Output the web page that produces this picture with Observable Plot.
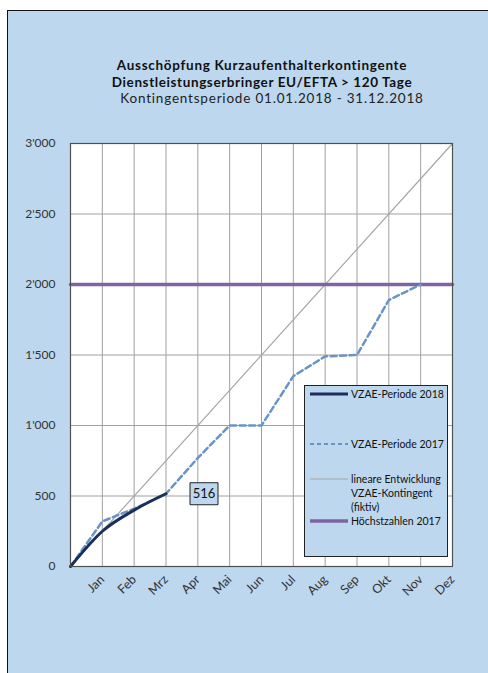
<!DOCTYPE html>
<html>
<head>
<meta charset="utf-8">
<script src="https://cdn.jsdelivr.net/npm/d3@7"></script>
<script src="https://cdn.jsdelivr.net/npm/@observablehq/plot@0.6"></script>
<style>
  html, body { margin: 0; padding: 0; background: #ffffff; }
  #wrap { position: relative; width: 488px; height: 673px; overflow: hidden; font-family: Lato, "Open Sans", sans-serif; }
  #panel { position: absolute; left: 7px; top: 10px; width: 500px; height: 700px; background: #bdd7ee; border-left: 1.5px solid #111; border-top: 1.5px solid #111; }
  #chart { position: absolute; left: 0; top: 0; }
  .t { position: absolute; white-space: nowrap; transform: translateX(-50%); color: #111; line-height: 14px; height: 14px; font-size: 13.5px; }
  #legend { position: absolute; left: 304px; top: 385px; }
</style>
</head>
<body>
<div id="wrap">
  <div id="panel"></div>
  <div class="t" id="t1" style="left:262px; top:58px; font-weight:700; letter-spacing:0.7px;"></div>
  <div class="t" id="t2" style="left:262px; top:74.5px; font-weight:700; letter-spacing:0.6px;"></div>
  <div class="t" id="t3" style="left:272px; top:91px; letter-spacing:0.8px; color:#222;"></div>
  <div id="chart"></div>
  <div id="legend"></div>
</div>
<script>
// ---- Texts ----
const titleLines = [
  "Ausschöpfung Kurzaufenthalterkontingente",
  "Dienstleistungserbringer EU/EFTA > 120 Tage",
  "Kontingentsperiode 01.01.2018 - 31.12.2018"
];

// ---- Categories (x: 0 = start of period, 1..12 = month ends) ----
const months = ["Jan", "Feb", "Mrz", "Apr", "Mai", "Jun", "Jul", "Aug", "Sep", "Okt", "Nov", "Dez"];
const yTicks = [0, 500, 1000, 1500, 2000, 2500, 3000];

// ---- Series ----
const vzae2018 = [0, 250, 400, 516];                                              // start, Jan..Mrz
const vzae2017 = [0, 320, 410, 516, 770, 1000, 1000, 1350, 1490, 1500, 1890, 2000]; // start, Jan..Nov
const linearX = [0, 12];
const linearY = [0, 3000];
const maxX = [0, 12];
const maxY = [2000, 2000];
const labelIndex = 3;      // Mrz
const labelValue = 516;

// ---- Legend ----
const legendLabels = [["VZAE-Periode 2018"], ["VZAE-Periode 2017"], ["lineare Entwicklung", "VZAE-Kontingent", "(fiktiv)"], ["Höchstzahlen 2017"]];
const legendColors = ["#1a2f5a", "#6a94c6", "#a6a6a6", "#8064a2"];
const legendWidths = [3, 2.2, 1.2, 3.5];
const legendDash = [null, "4,3", null, null];

document.getElementById("t1").textContent = titleLines[0];
document.getElementById("t2").textContent = titleLines[1];
document.getElementById("t3").textContent = titleLines[2];

const s2018 = vzae2018.map((v, i) => ({x: i, y: v}));
const s2017 = vzae2017.map((v, i) => ({x: i, y: v}));
const sLin = linearX.map((x, i) => ({x, y: linearY[i]}));
const sMax = maxX.map((x, i) => ({x, y: maxY[i]}));

const loc = d3.formatLocale({decimal: ".", thousands: "'", grouping: [3], currency: ["", ""]});
const fmt = loc.format(",");

const boxSymbol = { draw(ctx) { ctx.rect(-14, -11, 28, 22); } };

const chart = Plot.plot({
  width: 488,
  height: 673,
  marginLeft: 70,
  marginRight: 36,
  marginTop: 143,
  marginBottom: 107,
  x: {domain: [0, 12]},
  y: {domain: [0, 3000]},
  style: {background: "transparent", fontFamily: "Lato, 'Open Sans', sans-serif", fontSize: "12px", color: "#333", overflow: "visible"},
  marks: [
    Plot.frame({fill: "white", stroke: null}),
    Plot.gridX(d3.range(0, 13), {stroke: "#a0a0a0", strokeOpacity: 1, strokeWidth: 1}),
    Plot.gridY(yTicks, {stroke: "#a0a0a0", strokeOpacity: 1, strokeWidth: 1}),
    Plot.axisY(yTicks, {tickSize: 0, tickPadding: 15, tickFormat: d => fmt(d), fontSize: 12, fill: "#333", label: null}),
    Plot.axisX(d3.range(1, 13), {tickSize: 0, tickPadding: 11, tickRotate: -45, tickFormat: d => months[d - 1], fontSize: 12.5, fill: "#333", label: null}),
    Plot.line(sLin, {x: "x", y: "y", stroke: "#a6a6a6", strokeWidth: 1.2}),
    Plot.line(sMax, {x: "x", y: "y", stroke: "#8064a2", strokeWidth: 3.5}),
    Plot.line(s2017, {x: "x", y: "y", stroke: "#6a94c6", strokeWidth: 2.5, strokeDasharray: "6,3.5", curve: "linear", strokeLinejoin: "round"}),
    Plot.line(s2018, {x: "x", y: "y", stroke: "#1a2f5a", strokeWidth: 3, curve: "monotone-x"}),
    Plot.frame({stroke: "#505050", strokeWidth: 1.2}),
    Plot.dot([{x: labelIndex, y: labelValue}], {x: "x", y: "y", symbol: boxSymbol, r: 10, fill: "#bdd7ee", stroke: "#222", strokeWidth: 1, dx: 38}),
    Plot.text([{x: labelIndex, y: labelValue}], {x: "x", y: "y", text: d => String(d.y), dx: 38, fontSize: 13, fill: "#111"})
  ]
});
document.getElementById("chart").appendChild(chart);

// ---- Legend (svg) ----
const lw = 144, lh = 172;
const rowY = [9, 59, 94, 136];
const lg = d3.create("svg").attr("width", lw).attr("height", lh)
  .style("font-family", "Lato, 'Open Sans', sans-serif").style("font-size", "10.5px");
lg.append("rect").attr("x", 0.5).attr("y", 0.5).attr("width", lw - 1).attr("height", lh - 1)
  .attr("fill", "#bdd7ee").attr("stroke", "#222").attr("stroke-width", 1);
legendLabels.forEach((lines, i) => {
  lg.append("line").attr("x1", 6).attr("x2", 44).attr("y1", rowY[i]).attr("y2", rowY[i])
    .attr("stroke", legendColors[i]).attr("stroke-width", legendWidths[i])
    .attr("stroke-dasharray", legendDash[i]);
  lines.forEach((t, j) => {
    lg.append("text").attr("x", 47).attr("y", rowY[i] + j * 14).attr("dy", "0.35em")
      .attr("fill", "#111").text(t);
  });
});
document.getElementById("legend").appendChild(lg.node());
</script>
</body>
</html>
